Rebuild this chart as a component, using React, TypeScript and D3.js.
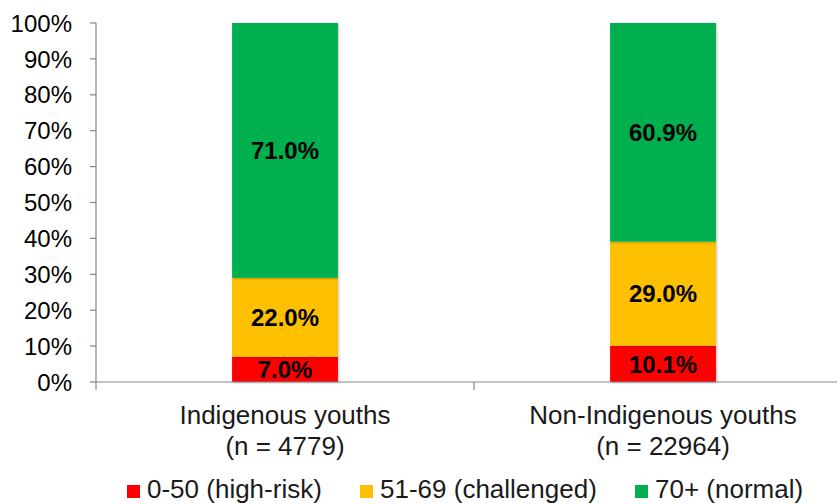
import React from "react";
import * as d3 from "d3";

const categories = ["Indigenous youths", "Non-Indigenous youths"];
const sampleSizes = ["(n = 4779)", "(n = 22964)"];
const seriesNames = ["0-50 (high-risk)", "51-69 (challenged)", "70+ (normal)"];
const seriesColors = ["#FF0000", "#FFC000", "#00B050"];
const highRisk = [7.0, 10.1];
const challenged = [22.0, 29.0];
const normal = [71.0, 60.9];
const yTicks = [0, 10, 20, 30, 40, 50, 60, 70, 80, 90, 100];

const W = 837;
const H = 504;
const font = "'Liberation Sans', Arial, sans-serif";

export default function App() {
  const rows = categories.map((c, i) => ({
    cat: c,
    s0: highRisk[i],
    s1: challenged[i],
    s2: normal[i],
  }));
  const stack = d3.stack<any>().keys(["s0", "s1", "s2"])(rows);

  // plot area runs past the right edge, like the original crop
  const x = d3.scaleBand().domain(categories).range([96, 852]).padding(0);
  const y = d3.scaleLinear().domain([0, 100]).range([382, 23]);
  const barW = x.bandwidth() * 0.28;

  const legendX = [127, 360, 635];

  return (
    <svg width={W} height={H} style={{ position: "absolute", left: 0, top: 0, background: "#fff" }}>
      <defs>
        <filter id="sh" x="-10%" y="-10%" width="120%" height="120%">
          <feDropShadow dx="1" dy="1" stdDeviation="1" floodColor="#000" floodOpacity="0.25" />
        </filter>
      </defs>

      {/* bars */}
      {stack.map((layer, si) => (
        <g key={si}>
          {layer.map((d, i) => {
            const cx = (x(categories[i]) ?? 0) + x.bandwidth() / 2;
            return (
              <rect
                key={i}
                x={cx - barW / 2}
                y={y(d[1])}
                width={barW}
                height={y(d[0]) - y(d[1])}
                fill={seriesColors[si]}
                filter="url(#sh)"
              />
            );
          })}
        </g>
      ))}

      {/* data labels */}
      {stack.map((layer, si) =>
        layer.map((d, i) => {
          const cx = (x(categories[i]) ?? 0) + x.bandwidth() / 2;
          const v = d[1] - d[0];
          return (
            <text
              key={`${si}-${i}`}
              x={cx}
              y={(y(d[0]) + y(d[1])) / 2}
              dy="0.36em"
              textAnchor="middle"
              fontFamily={font}
              fontWeight="bold"
              fontSize={24}
              fill="#000"
            >
              {v.toFixed(1)}%
            </text>
          );
        })
      )}

      {/* y axis */}
      <line x1={96} x2={96} y1={y(100)} y2={y(0)} stroke="#868686" strokeWidth={1.2} />
      {yTicks.map((t) => (
        <g key={t}>
          <line x1={90} x2={96} y1={y(t)} y2={y(t)} stroke="#868686" strokeWidth={1.2} />
          <text
            x={72}
            y={y(t)}
            dy="0.36em"
            textAnchor="end"
            fontFamily={font}
            fontSize={24}
            fill="#000"
          >
            {t}%
          </text>
        </g>
      ))}

      {/* x axis */}
      <line x1={96} x2={W} y1={y(0)} y2={y(0)} stroke="#868686" strokeWidth={1.2} />
      {categories.map((c) => {
        const x0 = x(c) ?? 0;
        return <line key={c} x1={x0} x2={x0} y1={y(0)} y2={y(0) + 8} stroke="#868686" strokeWidth={1.2} />;
      })}
      {categories.map((c, i) => {
        const cx = (x(c) ?? 0) + x.bandwidth() / 2;
        return (
          <text key={c} textAnchor="middle" fontFamily={font} fontSize={26} fill="#1a1a1a">
            <tspan x={cx} y={424}>{c}</tspan>
            <tspan x={cx} y={455}>{sampleSizes[i]}</tspan>
          </text>
        );
      })}

      {/* legend */}
      {seriesNames.map((n, i) => (
        <g key={n}>
          <rect x={legendX[i]} y={485} width={13} height={13} fill={seriesColors[i]} />
          <text x={legendX[i] + 20} y={498} fontFamily={font} fontSize={26} fill="#1a1a1a">
            {n}
          </text>
        </g>
      ))}
    </svg>
  );
}
